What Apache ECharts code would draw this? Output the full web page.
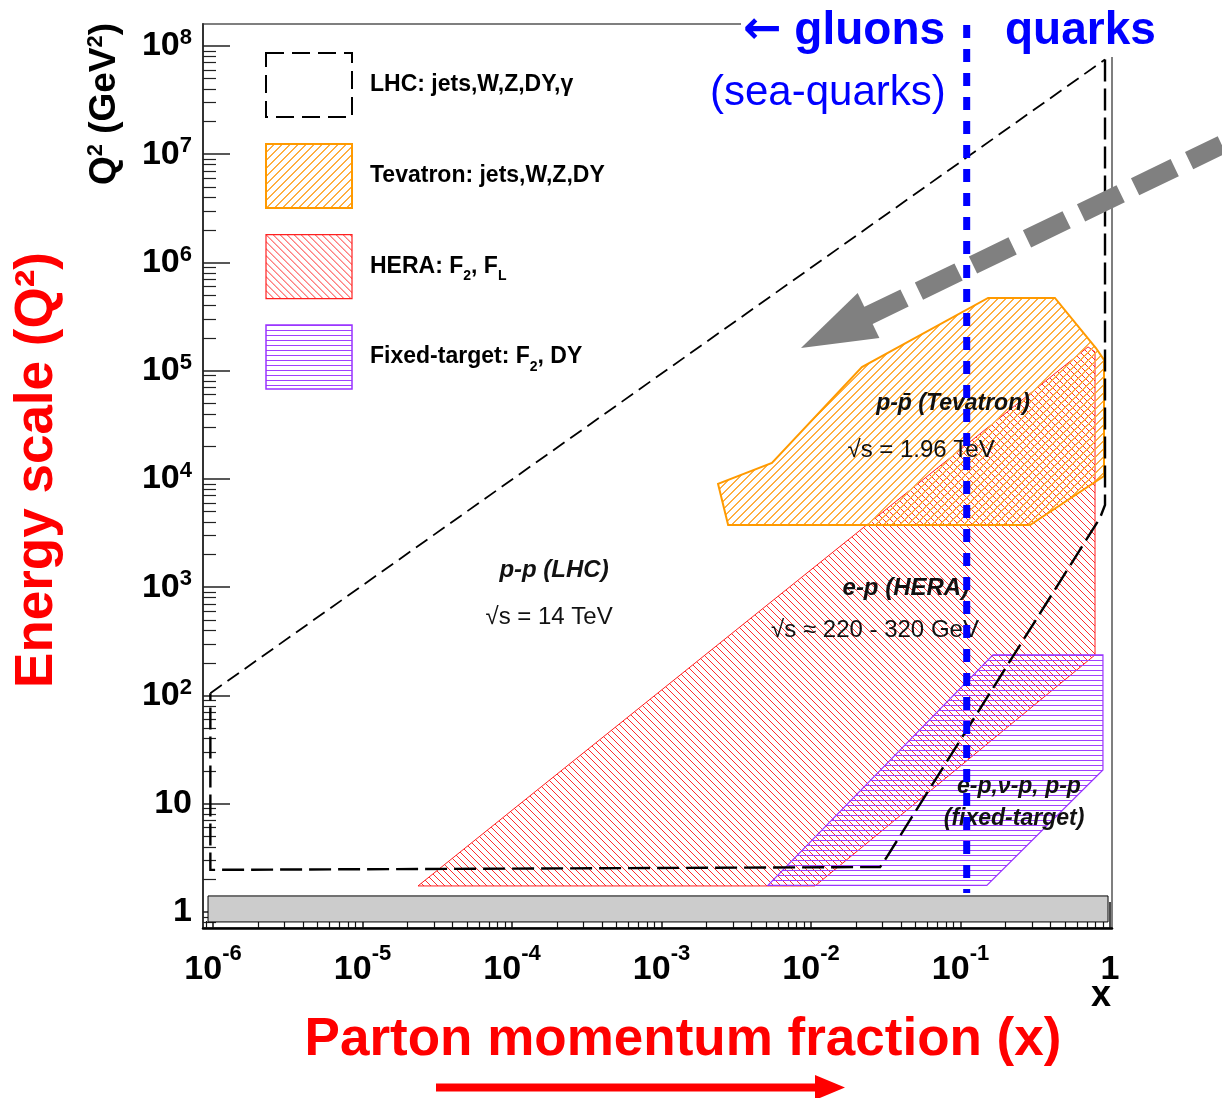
<!DOCTYPE html>
<html><head><meta charset="utf-8">
<script src="https://cdn.jsdelivr.net/npm/echarts@6/dist/echarts.min.js"></script>
<style>html,body{margin:0;padding:0;background:#fff}#c{width:1222px;height:1098px}</style>
</head><body><div id="c"></div>
<script>
// ---------------- DATA (x = parton momentum fraction, Q2 in GeV^2) ----------------
const xTickValues = [1e-6, 1e-5, 1e-4, 1e-3, 1e-2, 1e-1, 1];
const yTickValues = [1, 10, 1e2, 1e3, 1e4, 1e5, 1e6, 1e7, 1e8];

const lhcUpperEdge = [[9.6e-7, 105], [0.926, 7.5e7]];
const lhcOuterEdge = [[0.926, 7.5e7], [0.926, 5750], [0.857, 4360], [0.0318, 3.15], [0.029, 2.6], [9.6e-7, 2.45], [9.6e-7, 105]];

const tevatronRegion = [[0.00239, 9000], [0.00279, 3760], [0.292, 3760], [0.912, 10660], [0.912, 1.26e5],
  [0.805, 1.62e5], [0.428, 4.7e5], [0.153, 4.7e5], [0.0219, 1.08e5], [0.00548, 1.41e4]];
const heraRegion = [[2.35e-5, 1.74], [0.713, 1.66e5], [0.794, 1.49e5], [0.794, 237], [0.01064, 1.74]];
const fixedTargetRegion = [[0.00515, 1.76], [0.165, 237], [0.897, 237], [0.897, 20.5], [0.150, 1.76]];

const grayBand = [[9.26e-7, 0.809], [0.97, 1.406]];
const gluonQuarkBoundary = [[0.11, 1.56e8], [0.11, 1.5]];
const grayArrow = [[5.6, 1.22e7], [0.00857, 1.62e5]]; // tail, tip

const annotationTexts = ['p-p (LHC)', '\u221As = 14 TeV', 'p-p\u0304 (Tevatron)', '\u221As = 1.96 TeV',
  'e-p (HERA)', '\u221As \u2248 220 - 320 GeV', 'e-p,\u03BD-p, p-p', '(fixed-target)'];
const annotationAnchors = [[1.91e-4, 1443], [1.77e-4, 531], [0.0891, 4.93e4], [0.0545, 1.85e4],
  [0.0431, 984], [0.0268, 403], [0.246, 14.3], [0.228, 7.23]];
const annotationBold = [true, false, true, false, true, false, true, true];
const annotationSize = [24, 24, 23, 24, 24, 24, 23, 23];

const legendLabels = {
  'LHC': 'LHC: jets,W,Z,DY,\u03B3',
  'Tevatron': 'Tevatron: jets,W,Z,DY',
  'HERA': 'HERA: F{sub|2}, F{sub|L}',
  'Fixed-target': 'Fixed-target: F{sub|2}, DY'
};

// ---------------- axis ranges / ticks ----------------
const X_MIN = Math.pow(10, -6.067), X_MAX = Math.pow(10, 0.0134);
const Y_MIN = Math.pow(10, -0.148), Y_MAX = Math.pow(10, 8.203);
const xMinorTicks = [], yMinorTicks = [];
for (let e = -7; e <= -1; e++) for (let k = 2; k <= 9; k++) { const v = k * Math.pow(10, e); if (v > X_MIN && v < X_MAX) xMinorTicks.push(v); }
for (let e = -1; e <= 8; e++) for (let k = 2; k <= 9; k++) { const v = k * Math.pow(10, e); if (v > Y_MIN && v < Y_MAX) yMinorTicks.push(v); }

const FONT = "'Liberation Sans', Arial, Helvetica, sans-serif";

// crisp hatch tiles, like ROOT fill patterns
function hatch(color, size, dir, thick) {
  const c = document.createElement('canvas');
  c.width = size; c.height = size;
  const g = c.getContext('2d');
  g.fillStyle = color;
  for (let i = 0; i < size; i++) {
    for (let t = 0; t < thick; t++) {
      if (dir === '/') g.fillRect((i + t) % size, size - 1 - i, 1, 1);
      else if (dir === '\\') g.fillRect((i + t) % size, i, 1, 1);
    }
  }
  if (dir === '-') g.fillRect(0, 0, size, thick);
  return { image: c, repeat: 'repeat' };
}
const ORANGE = '#ff9a00', RED = '#ff2020', PURPLE = '#9933ff';
const orangeFill = hatch('#ffae40', 8, '/', 2);
const redFill = hatch('#ff2d2d', 7, '\\', 1);
const purpleFill = hatch('#a040ff', 5, '-', 1);

function polySeries(name, verts, fill, stroke, lw, z) {
  return {
    type: 'custom', name, z, silent: true, data: verts,
    itemStyle: { color: fill, borderColor: stroke, borderWidth: lw },
    renderItem: (params, api) => {
      if (params.dataIndex !== 0) return null;
      return { type: 'polygon', shape: { points: verts.map(v => api.coord(v)) },
        style: { fill, stroke, lineWidth: lw } };
    }
  };
}

const chart = echarts.init(document.getElementById('c'));
const option = {
  animation: false,
  backgroundColor: '#fff',
  grid: { left: 203, top: 24, width: 909, height: 904, show: true, borderColor: '#555', borderWidth: 1.5, outerBoundsMode: 'none', containLabel: false },
  xAxis: [{
    type: 'log', min: X_MIN, max: X_MAX, position: 'bottom',
    axisLine: { show: true, onZero: false, lineStyle: { color: '#000', width: 2.5 } },
    axisTick: { show: true, inside: true, length: 26, customValues: xTickValues, lineStyle: { color: '#111', width: 1.5 } },
    axisLabel: {
      customValues: xTickValues, margin: 15, color: '#000',
      formatter: v => { const e = Math.round(Math.log10(v)); return e === 0 ? '{b|1}' : '{b|10}{s|' + e + '}'; },
      rich: { b: { fontSize: 34, fontWeight: 'bold', fontFamily: FONT, lineHeight: 54, color: '#000' },
              s: { fontSize: 22, fontWeight: 'bold', fontFamily: FONT, lineHeight: 22, verticalAlign: 'top', color: '#000' } }
    },
    splitLine: { show: false }
  }, {
    type: 'log', min: X_MIN, max: X_MAX, position: 'bottom',
    axisLine: { show: false },
    axisTick: { show: true, inside: true, length: 7, customValues: xMinorTicks, lineStyle: { color: '#111', width: 1.2 } },
    axisLabel: { show: false }, splitLine: { show: false }
  }],
  yAxis: [{
    type: 'log', min: Y_MIN, max: Y_MAX, position: 'left',
    axisLine: { show: true, onZero: false, lineStyle: { color: '#333', width: 2 } },
    axisTick: { show: true, inside: true, length: 27, customValues: yTickValues, lineStyle: { color: '#222', width: 1.5 } },
    axisLabel: {
      customValues: yTickValues, margin: 11, color: '#000',
      formatter: v => { const e = Math.round(Math.log10(v)); return e === 0 ? '{b|1}' : (e === 1 ? '{b|10}' : '{b|10}{s|' + e + '}'); },
      rich: { b: { fontSize: 34, fontWeight: 'bold', fontFamily: FONT, lineHeight: 38, color: '#000' },
              s: { fontSize: 22, fontWeight: 'bold', fontFamily: FONT, lineHeight: 22, verticalAlign: 'top', color: '#000' } }
    },
    splitLine: { show: false }
  }, {
    type: 'log', min: Y_MIN, max: Y_MAX, position: 'left',
    axisLine: { show: false },
    axisTick: { show: true, inside: true, length: 13, customValues: yMinorTicks, lineStyle: { color: '#222', width: 1.2 } },
    axisLabel: { show: false }, splitLine: { show: false }
  }],
  legend: {
    show: true, orient: 'vertical', left: 265, top: 52, padding: 0,
    itemWidth: 86, itemHeight: 64, itemGap: 25, icon: 'rect', selectedMode: false,
    data: [
      { name: 'LHC', itemStyle: { color: 'rgba(0,0,0,0)', borderColor: '#000', borderWidth: 2, borderType: [18, 8] } },
      { name: 'Tevatron', itemStyle: { color: orangeFill, borderColor: ORANGE, borderWidth: 2 } },
      { name: 'HERA', itemStyle: { color: redFill, borderColor: RED, borderWidth: 1.2 } },
      { name: 'Fixed-target', itemStyle: { color: purpleFill, borderColor: PURPLE, borderWidth: 1.5 } }
    ],
    formatter: name => legendLabels[name],
    textStyle: { fontSize: 23, fontWeight: 'bold', fontFamily: FONT, color: '#000', lineHeight: 34, padding: [0, 0, 0, 13],
      rich: { sub: { fontSize: 14, fontWeight: 'bold', fontFamily: FONT, lineHeight: 14, verticalAlign: 'bottom', color: '#000' } } }
  },
  series: [
    { type: 'custom', name: 'band', z: 2, silent: true, data: grayBand,
      renderItem: (params, api) => {
        if (params.dataIndex !== 0) return null;
        const a = api.coord(grayBand[0]), b = api.coord(grayBand[1]);
        return { type: 'rect', shape: { x: a[0], y: b[1], width: b[0] - a[0], height: a[1] - b[1] }, style: { fill: '#cccccc', stroke: '#000', lineWidth: 1 } };
      } },
    polySeries('HERA', heraRegion, redFill, RED, 1, 3),
    polySeries('Tevatron', tevatronRegion, orangeFill, ORANGE, 2, 4),
    polySeries('Fixed-target', fixedTargetRegion, purpleFill, PURPLE, 1.2, 5),
    { type: 'custom', name: 'LHC', z: 6, silent: true, data: lhcOuterEdge,
      itemStyle: { color: 'rgba(0,0,0,0)', borderColor: '#000', borderWidth: 2 },
      renderItem: (params, api) => {
        if (params.dataIndex !== 0) return null;
        return { type: 'group', children: [
          { type: 'polyline', shape: { points: lhcUpperEdge.map(v => api.coord(v)) }, style: { stroke: '#000', lineWidth: 1.8, lineDash: [14, 7], fill: null } },
          { type: 'polyline', shape: { points: lhcOuterEdge.map(v => api.coord(v)) }, style: { stroke: '#000', lineWidth: 2.4, lineDash: [22, 7], fill: null } }
        ] };
      } },
    { type: 'custom', name: 'labels', z: 7, silent: true, data: annotationAnchors,
      renderItem: (params, api) => {
        const i = params.dataIndex, p = api.coord(annotationAnchors[i]);
        return { type: 'text', x: p[0], y: p[1], style: { text: annotationTexts[i], fill: '#111', fontSize: annotationSize[i],
          fontWeight: annotationBold[i] ? 'bold' : 'normal', fontStyle: annotationBold[i] ? 'italic' : 'normal', fontFamily: FONT,
          align: 'center', verticalAlign: 'middle' } };
      } },
    { type: 'custom', name: 'arrow', z: 8, silent: true, clip: false, data: grayArrow,
      renderItem: (params, api) => {
        if (params.dataIndex !== 0) return null;
        const tail = api.coord(grayArrow[0]), tip = api.coord(grayArrow[1]);
        const dx = tail[0] - tip[0], dy = tail[1] - tip[1], L = Math.hypot(dx, dy);
        const ux = dx / L, uy = dy / L, px = -uy, py = ux, HL = 75, HW = 25;
        const bx = tip[0] + ux * HL, by = tip[1] + uy * HL;
        return { type: 'group', children: [
          { type: 'line', shape: { x1: bx - ux * 4, y1: by - uy * 4, x2: tail[0], y2: tail[1] }, style: { stroke: '#808080', lineWidth: 19, lineDash: [44, 16], lineCap: 'butt' } },
          { type: 'polygon', shape: { points: [[tip[0], tip[1]], [bx + px * HW, by + py * HW], [bx - px * HW, by - py * HW]] }, style: { fill: '#808080' } }
        ] };
      } },
    { type: 'custom', name: 'boundary', z: 9, silent: true, data: gluonQuarkBoundary,
      renderItem: (params, api) => {
        if (params.dataIndex !== 0) return null;
        const a = api.coord(gluonQuarkBoundary[0]), b = api.coord(gluonQuarkBoundary[1]);
        return { type: 'line', shape: { x1: a[0], y1: a[1], x2: b[0], y2: b[1] }, style: { stroke: '#0000ff', lineWidth: 7, lineDash: [13, 11], lineCap: 'butt' } };
      } }
  ],
  graphic: [
    { type: 'rect', z: 1, silent: true, shape: { x: 741, y: 0, width: 481, height: 57 }, style: { fill: '#fff' } },
    { type: 'text', z: 20, x: 743, y: 31, style: { text: '{a|\u2190} gluons', fill: '#0000ff', fontSize: 46, fontWeight: 'bold', fontFamily: FONT, align: 'left', verticalAlign: 'middle',
      rich: { a: { fontSize: 46, fontWeight: 'bold', fontFamily: "'DejaVu Sans'", fill: '#0000ff' } } } },
    { type: 'text', z: 20, x: 1005, y: 31, style: { text: 'quarks', fill: '#0000ff', fontSize: 46, fontWeight: 'bold', fontFamily: FONT, align: 'left', verticalAlign: 'middle' } },
    { type: 'text', z: 20, x: 710, y: 93, style: { text: '(sea-quarks)', fill: '#0000ff', fontSize: 42, fontFamily: FONT, align: 'left', verticalAlign: 'middle' } },
    { type: 'text', z: 20, x: 683, y: 1040, style: { text: 'Parton momentum fraction (x)', fill: '#ff0000', fontSize: 53, fontWeight: 'bold', fontFamily: FONT, align: 'center', verticalAlign: 'middle' } },
    { type: 'text', z: 20, x: 37, y: 470, rotation: Math.PI / 2, style: { text: 'Energy scale (Q\u00B2)', fill: '#ff0000', fontSize: 53, fontWeight: 'bold', fontFamily: FONT, align: 'center', verticalAlign: 'middle' } },
    { type: 'polygon', z: 20, shape: { points: [[436, 1083.5], [815, 1083.5], [815, 1075], [845, 1087.5], [815, 1100], [815, 1091.5], [436, 1091.5]] }, style: { fill: '#ff0000' } },
    { type: 'text', z: 20, x: 105, y: 104, rotation: Math.PI / 2, style: { text: 'Q{s|2} (GeV{s|2})', fill: '#000', fontSize: 37, fontWeight: 'bold', fontFamily: FONT, align: 'center', verticalAlign: 'middle', lineHeight: 40,
      rich: { s: { fontSize: 22, fontWeight: 'bold', fontFamily: FONT, lineHeight: 22, verticalAlign: 'top', fill: '#000' } } } },
    { type: 'text', z: 20, x: 1101, y: 996, style: { text: 'x', fill: '#000', fontSize: 36, fontWeight: 'bold', fontFamily: FONT, align: 'center', verticalAlign: 'middle' } }
  ]
};
chart.setOption(option);
</script>
</body></html>
